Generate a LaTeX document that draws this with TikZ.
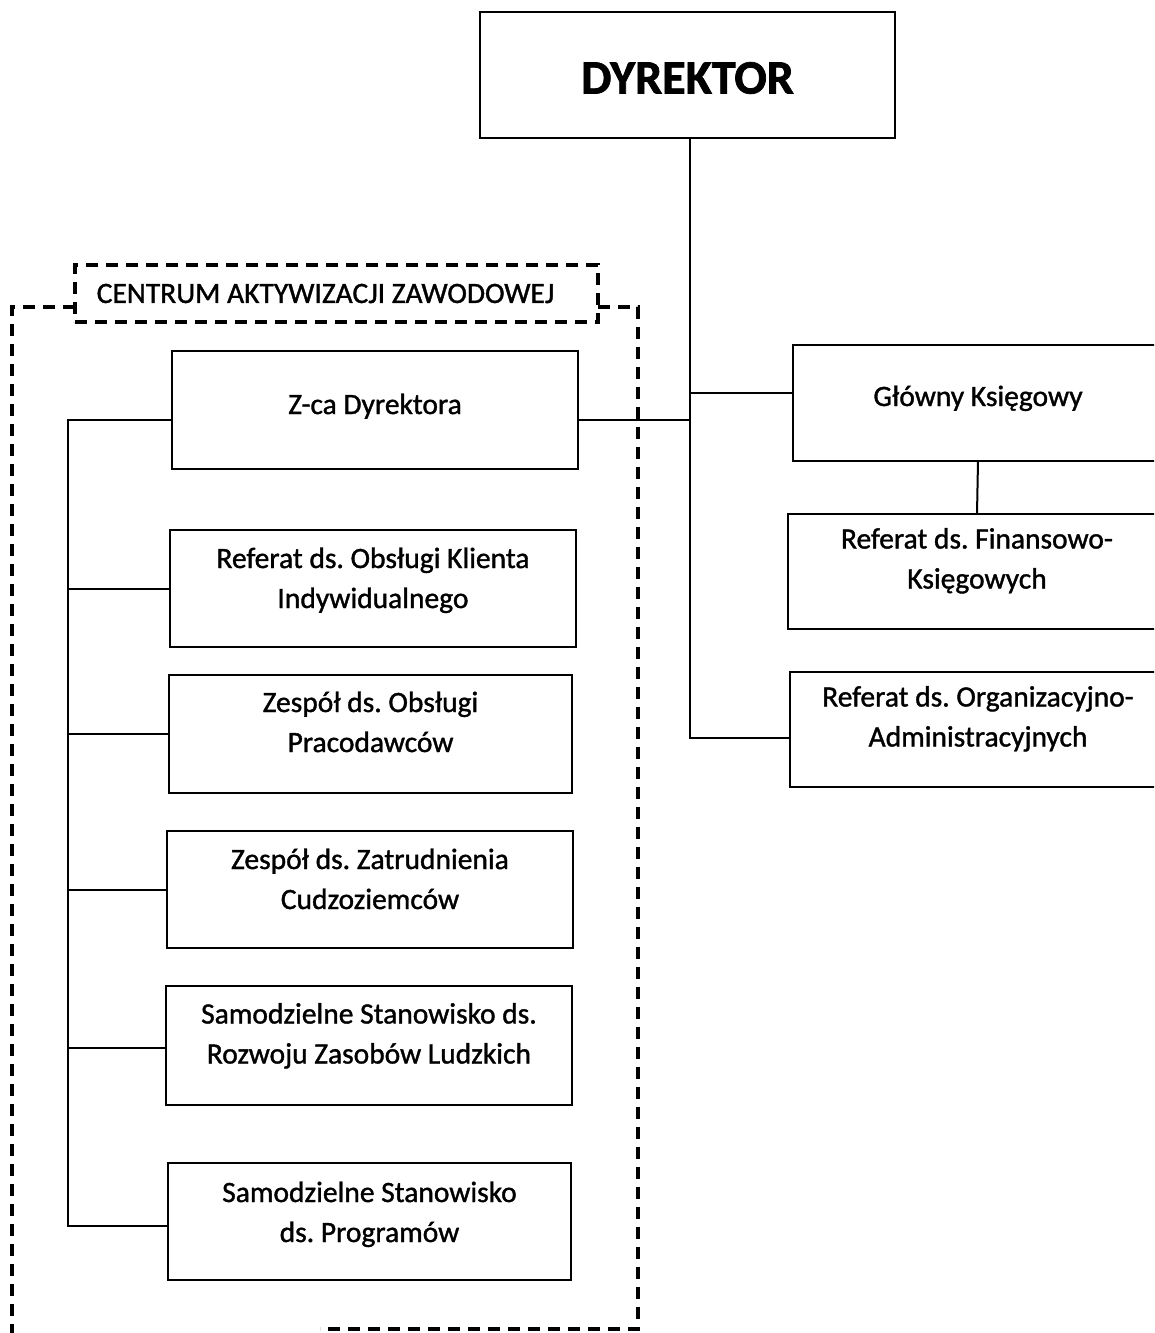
\documentclass[tikz,border=0pt]{standalone}
\usepackage{fontspec}
\setmainfont{Carlito}[FakeBold=1.2]
\newfontfamily\boldhead{Carlito Bold}[FakeBold=1.5]
\frenchspacing
\newcommand{\boxtext}[2]{\raisebox{0pt}[\height][\dimexpr\depth+#1\relax]{\begin{tabular}{@{}c@{}}#2\end{tabular}}}
\begin{document}
\frenchspacing
\begin{tikzpicture}[x=1pt,y=-1pt,
  box/.style={draw, line width=2pt, rectangle, inner sep=0pt, outer sep=0pt, font=\fontsize{29.5}{40}\selectfont},
  conn/.style={line width=2pt},
  dashframe/.style={line width=3.2pt, dash pattern=on 12pt off 8pt}]
\clip (0,0) rectangle (1154,1333);
\fill[white] (0,0) rectangle (1154,1333);
% top
\node[box, minimum width=415pt, minimum height=126pt] (dyr) at (687.5,75) {\raisebox{0pt}[\dimexpr\height+6pt\relax][\depth]{\fontsize{48}{50}\selectfont\boldhead DYREKTOR}};
% label of the centre
\node[box, dashframe, minimum width=523pt, minimum height=57pt] (caz) at (336.5,293.5) {CENTRUM AKTYWIZACJI ZAWODOWEJ\kern22pt\null};
% left column
\node[box, minimum width=406pt, minimum height=118pt] (zca) at (375,410) {\boxtext{8pt}{Z-ca Dyrektora}};
\node[box, minimum width=406pt, minimum height=117pt] (oki) at (373,588.5) {\boxtext{17pt}{Referat ds. Obsługi Klienta\\Indywidualnego}};
\node[box, minimum width=403pt, minimum height=118pt] (op) at (370.5,734) {\boxtext{20pt}{Zespół ds. Obsługi\\Pracodawców}};
\node[box, minimum width=406pt, minimum height=117pt] (zc) at (370,889.5) {\boxtext{17pt}{Zespół ds. Zatrudnienia\\Cudzoziemców}};
\node[box, minimum width=406pt, minimum height=119pt] (rzl) at (369,1045.5) {\boxtext{20pt}{Samodzielne Stanowisko ds.\\Rozwoju Zasobów Ludzkich}};
\node[box, minimum width=403pt, minimum height=117pt] (ssp) at (369.5,1221.5) {\boxtext{15pt}{Samodzielne Stanowisko\\ds. Programów}};
% right column
\node[box, minimum width=370pt, minimum height=116pt] (gk) at (978,403) {\boxtext{10pt}{Główny Księgowy}};
\node[box, minimum width=378pt, minimum height=115pt] (fin) at (977,571.5) {\boxtext{22pt}{Referat ds. Finansowo-\\Księgowych}};
\node[box, minimum width=376pt, minimum height=115pt] (org) at (978,729.5) {\boxtext{22pt}{Referat ds. Organizacyjno-\\Administracyjnych}};
% connectors on the right
\coordinate (t0) at (690,138);
\coordinate (tb) at (690,738);
\draw[conn] (t0) -- (tb) -- ([yshift=-8.5pt]org.west);
\draw[conn] ([yshift=10pt]gk.west) -- ([yshift=10pt]gk.west -| tb);
\draw[conn] ([yshift=-10pt]zca.east) -- ([yshift=-10pt]zca.east -| tb);
\draw[conn] (gk.south) -- (fin.north);
% left bus
\coordinate (bl) at (68,1226);
\draw[conn] ([yshift=-10pt]zca.west) -| (bl) -- ([yshift=-4.5pt]ssp.west);
\draw[conn] (oki.west) -- (oki.west -| bl);
\draw[conn] (op.west) -- (op.west -| bl);
\draw[conn] (zc.west) -- (zc.west -| bl);
\draw[conn] ([yshift=-2.5pt]rzl.west) -- ([yshift=-2.5pt]rzl.west -| bl);
% dashed frame of the centre
\draw[dashframe] (caz.west |- 0,307) -- (12,307) -- (12,1345);
\draw[dashframe] (caz.east |- 0,307) -- (638,307) -- (638,1329) -- (320,1329);
\end{tikzpicture}
\end{document}
